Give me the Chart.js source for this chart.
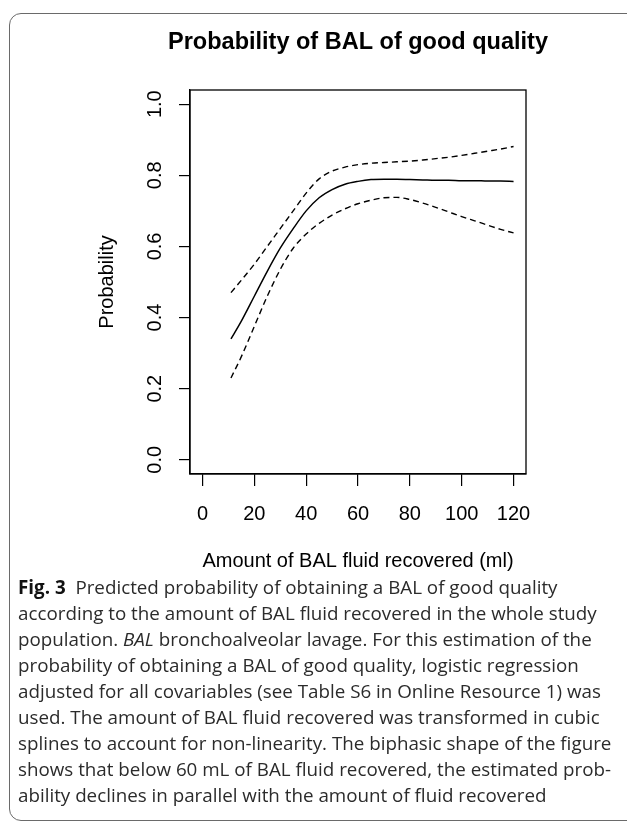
<!DOCTYPE html>
<html>
<head>
<meta charset="utf-8">
<script src="https://cdn.jsdelivr.net/npm/chart.js@4/dist/chart.umd.min.js"></script>
<style>
  html, body { margin: 0; padding: 0; background: #fff; }
  body { width: 627px; height: 824px; position: relative; overflow: hidden; }
  .card {
    position: absolute; left: 9px; top: 13px; width: 660px; height: 808px;
    border: 1.5px solid #6a6a6a; border-radius: 12px; box-sizing: border-box;
  }
  #chart { position: absolute; left: 0; top: 0; }
  .caption {
    position: absolute; left: 18px; top: 574px;
    font-family: "Open Sans", sans-serif; font-size: 18.8px; line-height: 26px;
    color: #2b2b2b; white-space: nowrap;
  }
  .caption b { font-weight: 700; color: #111; }
</style>
</head>
<body>
<div class="card"></div>
<canvas id="chart" width="627" height="580"></canvas>
<div class="caption">
  <div><b>Fig. 3</b>&nbsp; Predicted probability of obtaining a BAL of good quality</div>
  <div>according to the amount of BAL fluid recovered in the whole study</div>
  <div>population. <i>BAL</i> bronchoalveolar lavage. For this estimation of the</div>
  <div>probability of obtaining a BAL of good quality, logistic regression</div>
  <div>adjusted for all covariables (see Table S6 in Online Resource 1) was</div>
  <div>used. The amount of BAL fluid recovered was transformed in cubic</div>
  <div>splines to account for non-linearity. The biphasic shape of the figure</div>
  <div>shows that below 60 mL of BAL fluid recovered, the estimated prob-</div>
  <div>ability declines in parallel with the amount of fluid recovered</div>
</div>
<script>
// volume of BAL fluid recovered (ml)
const amount = [11, 15, 20, 25, 30, 35, 40, 45, 50, 55, 60, 65, 70, 75, 80, 85, 90, 95, 100, 105, 110, 115, 120];
// predicted probability + 95% CI
const prob  = [0.34, 0.39, 0.46, 0.53, 0.595, 0.65, 0.70, 0.737, 0.760, 0.775, 0.783, 0.788, 0.789, 0.789, 0.788, 0.787, 0.786, 0.786, 0.785, 0.785, 0.784, 0.784, 0.783];
const upper = [0.47, 0.505, 0.55, 0.60, 0.65, 0.70, 0.75, 0.79, 0.812, 0.823, 0.830, 0.834, 0.836, 0.838, 0.840, 0.843, 0.847, 0.851, 0.856, 0.862, 0.868, 0.874, 0.881];
const lower = [0.23, 0.29, 0.375, 0.46, 0.535, 0.595, 0.635, 0.665, 0.688, 0.706, 0.72, 0.730, 0.737, 0.738, 0.732, 0.722, 0.710, 0.697, 0.684, 0.672, 0.66, 0.648, 0.638];

const xTicks = [0, 20, 40, 60, 80, 100, 120];
const yTicks = [0.0, 0.2, 0.4, 0.6, 0.8, 1.0];
const mainTitle = 'Probability of BAL of good quality';

const pts = arr => amount.map((a, i) => ({ x: a, y: arr[i] }));
const FONT = "'Liberation Sans', Arial, Helvetica, sans-serif";

// R-style box round the plot region + main title centred over it
const boxPlugin = {
  id: 'box',
  afterDraw(chart) {
    const { ctx, chartArea: a } = chart;
    ctx.save();
    ctx.strokeStyle = '#000';
    ctx.lineWidth = 1.3;
    ctx.strokeRect(a.left, a.top, a.right - a.left, a.bottom - a.top);
    ctx.fillStyle = '#000';
    ctx.font = 'bold 23.5px ' + FONT;
    ctx.textAlign = 'center';
    ctx.textBaseline = 'middle';
    ctx.fillText(mainTitle, (a.left + a.right) / 2, 43);
    ctx.restore();
  }
};

const line = (data, dashed) => ({
  data: pts(data),
  borderColor: '#000',
  borderWidth: dashed ? 1.4 : 1.5,
  borderDash: dashed ? [6, 4] : [],
  pointRadius: 0,
  cubicInterpolationMode: 'monotone',
  fill: false
});

new Chart(document.getElementById('chart'), {
  type: 'line',
  data: {
    datasets: [line(prob, false), line(upper, true), line(lower, true)]
  },
  options: {
    responsive: false,
    animation: false,
    layout: { padding: { left: 0, right: 101, top: 90, bottom: 0 } },
    plugins: {
      legend: { display: false },
      tooltip: { enabled: false },
      title: { display: false }
    },
    scales: {
      x: {
        type: 'linear',
        min: -4.8, max: 124.8,
        afterBuildTicks: s => { s.ticks = xTicks.map(v => ({ value: v })); },
        afterFit: s => { s.height = 106; },
        grid: { drawOnChartArea: false, drawTicks: true, tickLength: 12, color: '#000', lineWidth: 1.2 },
        border: { display: true, color: '#000', width: 1.3 },
        ticks: { color: '#000', font: { family: FONT, size: 20 }, padding: 16, maxRotation: 0, minRotation: 0 },
        title: {
          display: true, text: 'Amount of BAL fluid recovered (ml)', color: '#000',
          font: { family: FONT, size: 20 }, padding: { top: 0, bottom: 7 }
        }
      },
      y: {
        min: -0.04, max: 1.04,
        afterBuildTicks: s => { s.ticks = yTicks.map(v => ({ value: v })); },
        afterFit: s => { s.width = 190; },
        grid: { drawOnChartArea: false, drawTicks: true, tickLength: 11, color: '#000', lineWidth: 1.2 },
        border: { display: true, color: '#000', width: 1.3 },
        ticks: {
          color: '#000', font: { family: FONT, size: 20 }, padding: 10,
          minRotation: 90, maxRotation: 90, crossAlign: 'center',
          callback: v => v.toFixed(1)
        },
        title: {
          display: true, text: 'Probability', color: '#000',
          font: { family: FONT, size: 20 }, padding: { top: 95, bottom: 0 }
        }
      }
    }
  },
  plugins: [boxPlugin]
});
</script>
</body>
</html>
